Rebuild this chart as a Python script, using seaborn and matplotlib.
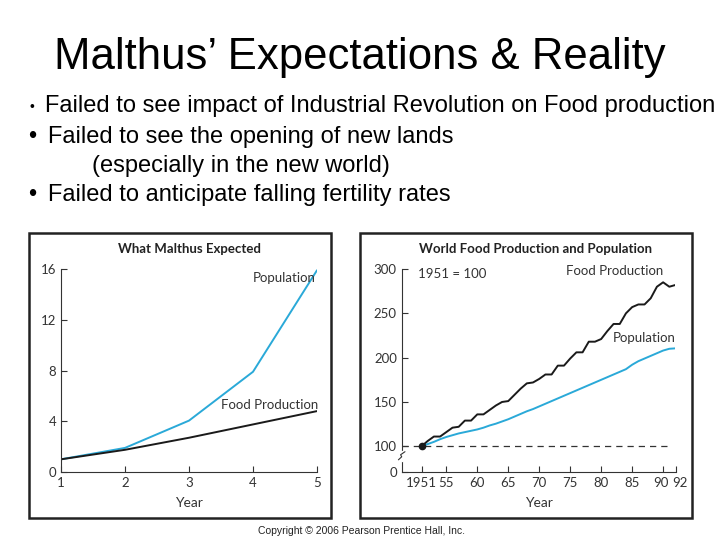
import numpy as np
import pandas as pd
import seaborn as sns
import matplotlib.pyplot as plt
from matplotlib.patches import Rectangle
from matplotlib.transforms import ScaledTranslation

# What Malthus expected (index, year 1..5)
exp_years = [1, 2, 3, 4, 5]
exp_population = [1, 1.9, 4.05, 7.9, 15.9]
exp_food = [1, 1.75, 2.7, 3.75, 4.8]

# World food production and population, 1951 = 100
years = list(range(1951, 1993))
food = [100, 106, 111, 111, 116, 121, 122, 129, 129, 136,
        136, 141, 146, 150, 151, 158, 165, 171, 172, 176,
        181, 181, 191, 191, 199, 206, 206, 218, 218, 221,
        230, 238, 238, 250, 257, 260, 260, 267, 280, 285,
        280, 282]
population = [100, 102.5, 105, 108, 110.5, 112.5, 114.5, 116, 117.5, 119,
              121, 123.5, 125.5, 128, 130.5, 133.5, 136.5, 139.5, 142, 145,
              148, 151, 154, 157, 160, 163, 166, 169, 172, 175,
              178, 181, 184, 187, 192, 196, 199, 202, 205, 208,
              210, 210.5]

bullets = ["Failed to see impact of Industrial Revolution on Food production",
           "Failed to see the opening of new lands",
           "(especially in the new world)",
           "Failed to anticipate falling fertility rates"]

sns.set_theme(style="ticks")
plt.rcParams['font.family'] = ['Liberation Sans', 'DejaVu Sans']

BLUE = "#2AA9D8"
W, H = 720, 540
fig = plt.figure(figsize=(7.2, 5.4), dpi=100)


def fx(px):
    return px / W


def fy(py):
    return 1 - py / H


# slide title and bullets
fs = 17
fig.text(fx(360), fy(57), "Malthus\u2019 Expectations & Reality", ha="center", va="center",
         fontsize=31.5, color="black")
fig.text(fx(30), fy(107), "\u2022", ha="left", va="center", fontsize=10, color="black")
fig.text(fx(45), fy(106), bullets[0], ha="left", va="center", fontsize=fs, color="black")
fig.text(fx(28), fy(137), "\u2022", ha="left", va="center", fontsize=fs, color="black")
fig.text(fx(48), fy(137), bullets[1], ha="left", va="center", fontsize=fs, color="black")
fig.text(fx(92), fy(166), bullets[2], ha="left", va="center", fontsize=fs, color="black")
fig.text(fx(28), fy(195), "\u2022", ha="left", va="center", fontsize=fs, color="black")
fig.text(fx(48), fy(195), bullets[3], ha="left", va="center", fontsize=fs, color="black")

# panel frames
for x0, x1 in [(29, 331), (360, 692)]:
    fig.patches.append(Rectangle((fx(x0), fy(518)), fx(x1 - x0), (518 - 233) / H,
                                 transform=fig.transFigure, fill=False,
                                 edgecolor="#222222", linewidth=1.8))

chart_font = "Lato"
tick_kw = dict(direction="in", length=4, width=0.8, colors="#333333",
               labelsize=9.5, labelcolor="#333333")

# left chart
ax1 = fig.add_axes([fx(61), fy(472), fx(317 - 61), (472 - 269) / H])
d1 = pd.DataFrame({"Year": exp_years, "Population": exp_population, "Food": exp_food})
sns.lineplot(data=d1, x="Year", y="Population", color=BLUE, linewidth=1.4, ax=ax1)
sns.lineplot(data=d1, x="Year", y="Food", color="#1a1a1a", linewidth=1.4, ax=ax1)
ax1.set_xlim(1, 5)
ax1.set_ylim(0, 16)
ax1.set_xticks(exp_years)
ax1.set_yticks([0, 4, 8, 12, 16])
ax1.tick_params(**tick_kw)
for lab in ax1.get_xticklabels() + ax1.get_yticklabels():
    lab.set_family(chart_font)
ax1.set_xlabel("Year", fontsize=10, color="#333333", family=chart_font, labelpad=6)
ax1.set_ylabel("")
ax1.text(0.5, 1.1, "What Malthus Expected", transform=ax1.transAxes, ha="center",
         va="center", fontsize=9.5, fontweight="bold", family=chart_font, color="#222222")
ax1.text(4.98, 15.3, "Population", ha="right", va="center", fontsize=9.5,
         family=chart_font, color="#333333")
ax1.text(5.02, 5.3, "Food Production", ha="right", va="center", fontsize=9.5,
         family=chart_font, color="#333333")
sns.despine(ax=ax1)
for s in ["left", "bottom"]:
    ax1.spines[s].set_linewidth(0.8)
    ax1.spines[s].set_color("#333333")

# right chart
ax2 = fig.add_axes([fx(401.7), fy(472), fx(675.5 - 401.7), (472 - 269) / H])
d2 = pd.DataFrame({"Year": years, "Food": food, "Population": population})
ax2.axhline(100, xmin=0, xmax=(1991.5 - 1947.8) / (1992 - 1947.8),
            color="#333333", linestyle=(0, (5, 4)), linewidth=0.9)
sns.lineplot(data=d2, x="Year", y="Population", color=BLUE, linewidth=1.4, ax=ax2)
sns.lineplot(data=d2, x="Year", y="Food", color="#1a1a1a", linewidth=1.4, ax=ax2)
ax2.plot([years[0]], [food[0]], "o", color="#1a1a1a", markersize=4.5)
ax2.set_xlim(1947.8, 1992)
ax2.set_ylim(71, 300)
ax2.set_xticks([1951, 1955, 1960, 1965, 1970, 1975, 1980, 1985, 1990, 1992])
ax2.set_xticklabels(["1951", "55", "60", "65", "70", "75", "80", "85", "90", "92"])
ax2.set_yticks([71, 100, 150, 200, 250, 300])
ax2.set_yticklabels(["0", "100", "150", "200", "250", "300"])
ax2.tick_params(**tick_kw)
for lab in ax2.get_xticklabels() + ax2.get_yticklabels():
    lab.set_family(chart_font)
xl = ax2.get_xticklabels()
xl[-2].set_transform(xl[-2].get_transform() + ScaledTranslation(-2 / 100, 0, fig.dpi_scale_trans))
xl[-1].set_transform(xl[-1].get_transform() + ScaledTranslation(4 / 100, 0, fig.dpi_scale_trans))
ax2.set_xlabel("Year", fontsize=10, color="#333333", family=chart_font, labelpad=6)
ax2.set_ylabel("")
ax2.text(0.49, 1.1, "World Food Production and Population", transform=ax2.transAxes,
         ha="center", va="center", fontsize=9.5, fontweight="bold", family=chart_font,
         color="#222222")
ax2.text(1950.5, 294, "1951 = 100", ha="left", va="center", fontsize=9.5,
         family=chart_font, color="#333333")
ax2.text(1990, 298, "Food Production", ha="right", va="center", fontsize=9.5,
         family=chart_font, color="#333333")
ax2.text(1992, 222, "Population", ha="right", va="center", fontsize=9.5,
         family=chart_font, color="#333333")
sns.despine(ax=ax2)
for s in ["left", "bottom"]:
    ax2.spines[s].set_linewidth(0.8)
    ax2.spines[s].set_color("#333333")
# axis break mark
ax2.plot([0, 0], [0.06, 0.1], transform=ax2.transAxes, color="white", linewidth=2.5,
         clip_on=False, zorder=5)
ax2.plot([-0.012, 0.0, -0.004, 0.012], [0.06, 0.075, 0.085, 0.1], transform=ax2.transAxes,
         color="#333333", linewidth=0.8, clip_on=False, zorder=6)

fig.text(fx(361), fy(531), "Copyright \u00a9 2006 Pearson Prentice Hall, Inc.", ha="center",
         va="center", fontsize=7.5, color="#222222")

fig.savefig("out.png", dpi=100)
